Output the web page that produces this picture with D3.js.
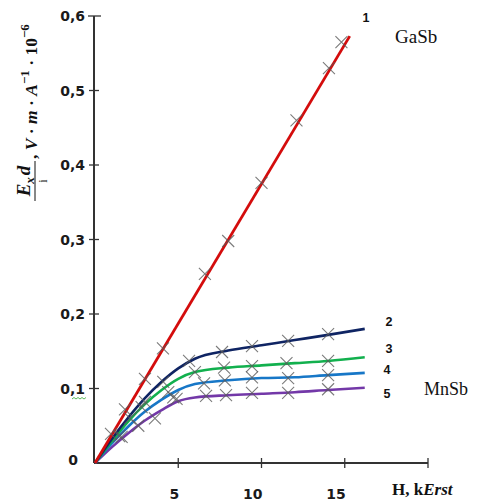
<!DOCTYPE html>
<html>
<head>
<meta charset="utf-8">
<script src="https://cdn.jsdelivr.net/npm/d3@7"></script>
<style>
  body { margin: 0; background: #fff; }
  svg { display: block; }
</style>
</head>
<body>
<div id="chart"></div>
<script>
// Field H, kErst
const hLine = [0, 1, 2, 3, 4, 5, 6, 8, 10, 12, 14, 16.2];

// line 1 (GaSb) is straight
const gasbLine = [[0, 0], [15.3, 0.573]];
const gasbMarks = [[0.96, 0.039], [1.8, 0.072], [3.0, 0.113], [4.08, 0.154], [6.6, 0.254],
                   [8.0, 0.298], [10.0, 0.376], [12.1, 0.46], [14.05, 0.53], [14.8, 0.565]];

// curves 2-5 (MnSb)
const line2 = [0, 0.032, 0.061, 0.087, 0.109, 0.127, 0.140, 0.151, 0.158, 0.165, 0.172, 0.180];
const line3 = [0, 0.029, 0.056, 0.079, 0.098, 0.113, 0.122, 0.128, 0.131, 0.134, 0.137, 0.142];
const line4 = [0, 0.026, 0.049, 0.069, 0.085, 0.098, 0.106, 0.111, 0.114, 0.115, 0.118, 0.121];
const line5 = [0, 0.021, 0.040, 0.057, 0.071, 0.083, 0.088, 0.091, 0.093, 0.095, 0.098, 0.101];

const marks2 = [[2.1, 0.060], [3.0, 0.082], [4.1, 0.109], [5.65, 0.137], [7.63, 0.149], [9.43, 0.157], [11.6, 0.164], [14.0, 0.173]];
const marks3 = [[1.45, 0.036], [2.8, 0.075], [4.4, 0.095], [6.0, 0.122], [7.75, 0.128], [9.43, 0.130], [11.5, 0.134], [14.0, 0.137]];
const marks4 = [[2.6, 0.050], [4.7, 0.088], [6.55, 0.107], [7.8, 0.111], [9.43, 0.115], [11.6, 0.114], [14.0, 0.118]];
const marks5 = [[1.6, 0.035], [3.6, 0.060], [4.9, 0.086], [6.67, 0.090], [7.87, 0.091], [9.43, 0.094], [11.6, 0.094], [14.0, 0.099]];

const yTicks = [0, 0.1, 0.2, 0.3, 0.4, 0.5, 0.6];
const yTickLabels = ["0", "0,1", "0,2", "0,3", "0,4", "0,5", "0,6"];
const xTicks = [5, 10, 15];

const width = 477, height = 503;

const svg = d3.select("#chart").append("svg")
    .attr("width", width)
    .attr("height", height);

const x = d3.scaleLinear().domain([0, 20]).range([95, 428]);
const y = d3.scaleLinear().domain([0, 0.6]).range([463, 16]);

// Axes, drawn by hand so ticks cross the line
const axisColor = "#333";
svg.append("line")
    .attr("x1", x(0) - 1).attr("x2", x(0) - 1)
    .attr("y1", y(0.6)).attr("y2", y(0))
    .attr("stroke", axisColor).attr("stroke-width", 2);
svg.append("line")
    .attr("x1", x(0) - 1).attr("x2", x(20))
    .attr("y1", y(0)).attr("y2", y(0))
    .attr("stroke", axisColor).attr("stroke-width", 2);

svg.append("g").selectAll("line")
    .data(yTicks.slice(1))
    .enter().append("line")
    .attr("x1", d => d === 0.6 ? x(0) - 7 : x(0) - 6)
    .attr("x2", d => d === 0.6 ? x(0) + 6 : x(0) + 4)
    .attr("y1", d => y(d)).attr("y2", d => y(d))
    .attr("stroke", axisColor).attr("stroke-width", 1.3);

svg.append("g").selectAll("line")
    .data(xTicks.concat([20]))
    .enter().append("line")
    .attr("x1", d => x(d)).attr("x2", d => x(d))
    .attr("y1", y(0) - 5).attr("y2", y(0) + 5)
    .attr("stroke", axisColor).attr("stroke-width", 1.3);

// tick labels
svg.append("g").selectAll("text")
    .data(yTicks)
    .enter().append("text")
    .attr("x", d => d === 0 ? 78 : 85)
    .attr("y", d => d === 0 ? y(d) - 3 : y(d))
    .attr("dy", "0.36em")
    .attr("text-anchor", "end")
    .attr("font-family", "DejaVu Sans, Verdana, sans-serif")
    .attr("font-weight", "bold")
    .attr("font-size", 14)
    .attr("fill", "#1a1a1a")
    .text((d, i) => yTickLabels[i]);

svg.append("g").selectAll("text")
    .data(xTicks)
    .enter().append("text")
    .attr("x", d => x(d) + 1)
    .attr("y", 499)
    .attr("text-anchor", "end")
    .attr("font-family", "DejaVu Sans, Verdana, sans-serif")
    .attr("font-weight", "bold")
    .attr("font-size", 14)
    .attr("fill", "#1a1a1a")
    .text(d => d);

// spell-check squiggle under 0,1
svg.append("path")
    .attr("d", "M72,399 l2,-1.5 l2,1.5 l2,-1.5 l2,1.5 l2,-1.5 l2,1.5 l2,-1.5")
    .attr("fill", "none").attr("stroke", "#3a3").attr("stroke-width", 0.8);

// curves
const line = d3.line()
    .x(d => x(d[0]))
    .y(d => y(d[1]))
    .curve(d3.curveMonotoneX);

const series = [
    { vals: line2, marks: marks2, color: "#0f2463" },
    { vals: line3, marks: marks3, color: "#12b04e" },
    { vals: line4, marks: marks4, color: "#1777c7" },
    { vals: line5, marks: marks5, color: "#7338a8" }
];

series.slice().reverse().forEach(s => {
    svg.append("path")
        .datum(hLine.map((h, i) => [h, s.vals[i]]))
        .attr("d", line)
        .attr("fill", "none")
        .attr("stroke", s.color)
        .attr("stroke-width", 2.6);
});

svg.append("path")
    .datum(gasbLine)
    .attr("d", line)
    .attr("fill", "none")
    .attr("stroke", "#d40c0c")
    .attr("stroke-width", 2.8);

// cross markers
const allMarks = gasbMarks.concat(marks2, marks3, marks4, marks5);
const cs = 6;
svg.append("g").selectAll("path")
    .data(allMarks)
    .enter().append("path")
    .attr("d", d => {
        const px = x(d[0]), py = y(d[1]);
        return `M${px - cs},${py - cs}L${px + cs},${py + cs}M${px - cs},${py + cs}L${px + cs},${py - cs}`;
    })
    .attr("stroke", "#5a5a5a")
    .attr("stroke-opacity", 0.8)
    .attr("stroke-width", 1.1)
    .attr("fill", "none");

// curve numbers
const curveLabels = [
    { t: "1", px: 366, py: 17 },
    { t: "2", px: 389, py: 321 },
    { t: "3", px: 389, py: 348 },
    { t: "4", px: 387, py: 369 },
    { t: "5", px: 387, py: 393 }
];
svg.append("g").selectAll("text")
    .data(curveLabels)
    .enter().append("text")
    .attr("x", d => d.px).attr("y", d => d.py)
    .attr("dy", "0.36em")
    .attr("text-anchor", "middle")
    .attr("font-family", "Liberation Sans, Arial, sans-serif")
    .attr("font-weight", "bold")
    .attr("font-size", 12.5)
    .attr("fill", "#111")
    .text(d => d.t);

const serif = "Liberation Serif, Times New Roman, serif";
svg.append("text")
    .attr("x", 395).attr("y", 43)
    .attr("font-family", serif).attr("font-size", 19)
    .attr("fill", "#111")
    .text("GaSb");
svg.append("text")
    .attr("x", 424).attr("y", 395)
    .attr("font-family", serif).attr("font-size", 18)
    .attr("fill", "#111")
    .text("MnSb");

// x axis title
const xt = svg.append("text")
    .attr("x", 392).attr("y", 495)
    .attr("font-family", serif).attr("font-size", 17)
    .attr("font-weight", "bold")
    .attr("fill", "#111");
xt.append("tspan").text("H, k");
xt.append("tspan").attr("font-style", "italic").text("Erst");

// y axis title (rotated, fraction + units)
const yl = svg.append("g")
    .attr("transform", "translate(0,201) rotate(-90)")
    .attr("font-family", serif)
    .attr("font-weight", "bold")
    .attr("fill", "#111");

const num = yl.append("text")
    .attr("x", 20).attr("y", 30)
    .attr("text-anchor", "middle")
    .attr("font-size", 19)
    .attr("font-style", "italic");
num.append("tspan").text("E");
num.append("tspan").attr("font-size", 13).attr("dy", 4).text("x");
num.append("tspan").attr("dy", -4).attr("dx", 2).text("d");

yl.append("line")
    .attr("x1", 0).attr("x2", 40)
    .attr("y1", 35).attr("y2", 35)
    .attr("stroke", "#111").attr("stroke-width", 1);

yl.append("text")
    .attr("x", 20).attr("y", 47)
    .attr("text-anchor", "middle")
    .attr("font-size", 12)
    .attr("font-weight", "normal")
    .text("i");

const units = yl.append("text")
    .attr("x", 42).attr("y", 37)
    .attr("font-size", 17.5);
units.append("tspan").text(", ");
units.append("tspan").attr("font-style", "italic").text("V");
units.append("tspan").text(" · ");
units.append("tspan").attr("font-style", "italic").text("m");
units.append("tspan").text(" · ");
units.append("tspan").attr("font-style", "italic").text("A");
units.append("tspan").attr("font-size", 13).attr("dy", -8).text("−1");
units.append("tspan").attr("dy", 8).text(" · 10");
units.append("tspan").attr("font-size", 13).attr("dy", -8).text("−6");
</script>
</body>
</html>
